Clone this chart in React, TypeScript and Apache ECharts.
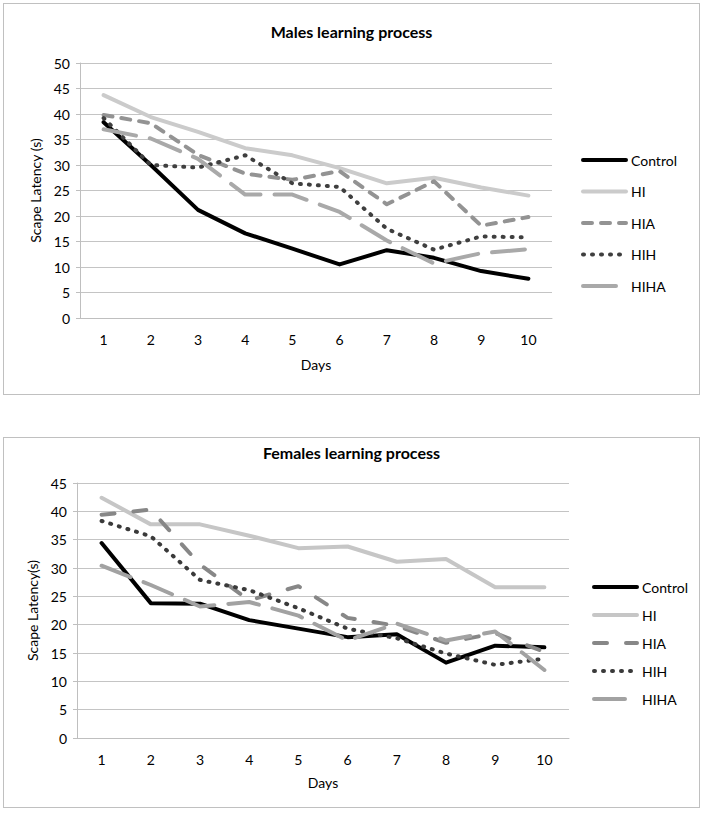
import React, { useEffect, useRef } from "react";
import * as echarts from "echarts";

const days = ["1", "2", "3", "4", "5", "6", "7", "8", "9", "10"];
const seriesNames = ["Control", "HI", "HIA", "HIH", "HIHA"];

const maleControl = [38.4, 30.0, 21.2, 16.6, 13.6, 10.5, 13.3, 11.8, 9.2, 7.7];
const maleHI = [43.7, 39.4, 36.5, 33.3, 31.9, 29.4, 26.4, 27.5, 25.6, 24.0];
const maleHIA = [39.8, 38.2, 32.0, 28.3, 27.1, 28.8, 22.3, 26.8, 18.1, 19.8];
const maleHIH = [39.2, 30.0, 29.5, 31.9, 26.4, 25.7, 17.5, 13.4, 16.0, 15.8];
const maleHIHA = [37.0, 35.2, 31.2, 24.2, 24.2, 20.8, 15.2, 10.7, 12.7, 13.5];

const femaleControl = [34.4, 23.8, 23.7, 20.8, 19.3, 17.8, 18.3, 13.3, 16.3, 16.0];
const femaleHI = [42.4, 37.7, 37.7, 35.7, 33.5, 33.8, 31.1, 31.6, 26.6, 26.6];
const femaleHIA = [39.4, 40.3, 30.6, 24.3, 26.8, 21.2, 19.8, 16.8, 18.5, 15.2];
const femaleHIH = [38.3, 35.6, 27.9, 26.1, 22.9, 19.3, 17.6, 14.9, 12.9, 14.0];
const femaleHIHA = [30.4, 27.0, 23.2, 24.0, 21.6, 17.2, 20.2, 17.2, 18.8, 12.0];

const FONT = "Lato, 'Noto Sans', sans-serif";

type Style = { color: string; type: any; cap: string };

function buildOption(cfg: {
  title: string;
  titleTop: number;
  yName: string;
  yMax: number;
  grid: { left: number; right: number; top: number; bottom: number };
  yNameGap: number;
  xNameGap: number;
  legendLeft: number;
  legendTop: number;
  legendGap: number;
  data: number[][];
  styles: Style[];
}) {
  const series = seriesNames.map((name, i) => ({
    type: "line",
    name,
    data: cfg.data[i],
    symbol: "none",
    showSymbol: false,
    itemStyle: { color: cfg.styles[i].color },
    lineStyle: {
      color: cfg.styles[i].color,
      width: 4,
      type: cfg.styles[i].type,
      cap: cfg.styles[i].cap,
      join: "round",
    },
  }));
  return {
    animation: false,
    title: {
      text: cfg.title,
      left: "center",
      top: cfg.titleTop,
      textStyle: { fontFamily: FONT, fontSize: 16, fontWeight: "bold", color: "#000" },
    },
    legend: {
      orient: "vertical",
      left: cfg.legendLeft,
      top: cfg.legendTop,
      itemWidth: 43,
      itemHeight: 14,
      itemGap: cfg.legendGap,
      textStyle: { fontFamily: FONT, fontSize: 14, color: "#000" },
      data: seriesNames.map((name, i) => ({
        name,
        itemStyle: { opacity: 0, borderWidth: 0, color: "transparent" },
        lineStyle: {
          width: 4,
          color: cfg.styles[i].color,
          type: cfg.styles[i].type,
          cap: cfg.styles[i].cap,
          opacity: 1,
        },
      })),
    },
    grid: { ...cfg.grid, containLabel: false },
    xAxis: {
      type: "category",
      data: days,
      boundaryGap: true,
      name: "Days",
      nameLocation: "middle",
      nameGap: cfg.xNameGap,
      nameTextStyle: { fontFamily: FONT, fontSize: 14, color: "#000" },
      axisLine: { lineStyle: { color: "#bfbfbf", width: 1 } },
      axisTick: { show: false },
      axisLabel: { fontFamily: FONT, fontSize: 14, color: "#000", margin: 14 },
    },
    yAxis: {
      type: "value",
      min: 0,
      max: cfg.yMax,
      interval: 5,
      name: cfg.yName,
      nameLocation: "middle",
      nameGap: cfg.yNameGap,
      nameTextStyle: { fontFamily: FONT, fontSize: 14, color: "#000" },
      axisLine: { show: true, lineStyle: { color: "#bfbfbf", width: 1 } },
      axisTick: { show: true, length: 4, lineStyle: { color: "#bfbfbf" } },
      axisLabel: { fontFamily: FONT, fontSize: 14, color: "#000", margin: 10 },
      splitLine: { show: true, lineStyle: { color: "#c4c4c4", width: 1 } },
    },
    series,
  };
}

const maleStyles: Style[] = [
  { color: "#000000", type: "solid", cap: "round" },
  { color: "#cbcbcb", type: "solid", cap: "round" },
  { color: "#939393", type: [9, 9], cap: "round" },
  { color: "#3f3f3f", type: [1, 8], cap: "round" },
  { color: "#a9a9a9", type: [33, 14], cap: "round" },
];

const femaleStyles: Style[] = [
  { color: "#000000", type: "solid", cap: "round" },
  { color: "#c6c6c6", type: "solid", cap: "round" },
  { color: "#878787", type: [13, 19], cap: "round" },
  { color: "#3a3a3a", type: [1, 8], cap: "round" },
  { color: "#a2a2a2", type: [31, 14], cap: "round" },
];

function ChartBox(props: { left: number; top: number; width: number; height: number; option: any }) {
  const ref = useRef<HTMLDivElement>(null);
  useEffect(() => {
    if (!ref.current) return;
    const chart = echarts.init(ref.current, undefined, { renderer: "svg" });
    chart.setOption(props.option);
    return () => chart.dispose();
  }, []);
  return (
    <div
      style={{
        position: "absolute",
        left: props.left,
        top: props.top,
        width: props.width,
        height: props.height,
        boxSizing: "border-box",
        border: "1px solid #c0c0c0",
        background: "#fff",
      }}
    >
      <div ref={ref} style={{ width: props.width - 2, height: props.height - 2 }} />
    </div>
  );
}

export default function App() {
  const maleOption = buildOption({
    title: "Males learning process",
    titleTop: 14,
    yName: "Scape Latency (s)",
    yMax: 50,
    grid: { left: 76, right: 147, top: 59, bottom: 76 },
    yNameGap: 35,
    xNameGap: 39,
    legendLeft: 572,
    legendTop: 144,
    legendGap: 17.5,
    data: [maleControl, maleHI, maleHIA, maleHIH, maleHIHA],
    styles: maleStyles,
  });
  const femaleOption = buildOption({
    title: "Females learning process",
    titleTop: 1,
    yName: "Scape Latency(s)",
    yMax: 45,
    grid: { left: 73, right: 130, top: 45, bottom: 69 },
    yNameGap: 37,
    xNameGap: 37,
    legendLeft: 583,
    legendTop: 137,
    legendGap: 14,
    data: [femaleControl, femaleHI, femaleHIA, femaleHIH, femaleHIHA],
    styles: femaleStyles,
  });
  return (
    <div style={{ position: "absolute", left: 0, top: 0, width: 704, height: 814, background: "#fff" }}>
      <ChartBox left={3} top={3} width={697} height={392} option={maleOption} />
      <ChartBox left={3} top={437} width={697} height={371} option={femaleOption} />
    </div>
  );
}
